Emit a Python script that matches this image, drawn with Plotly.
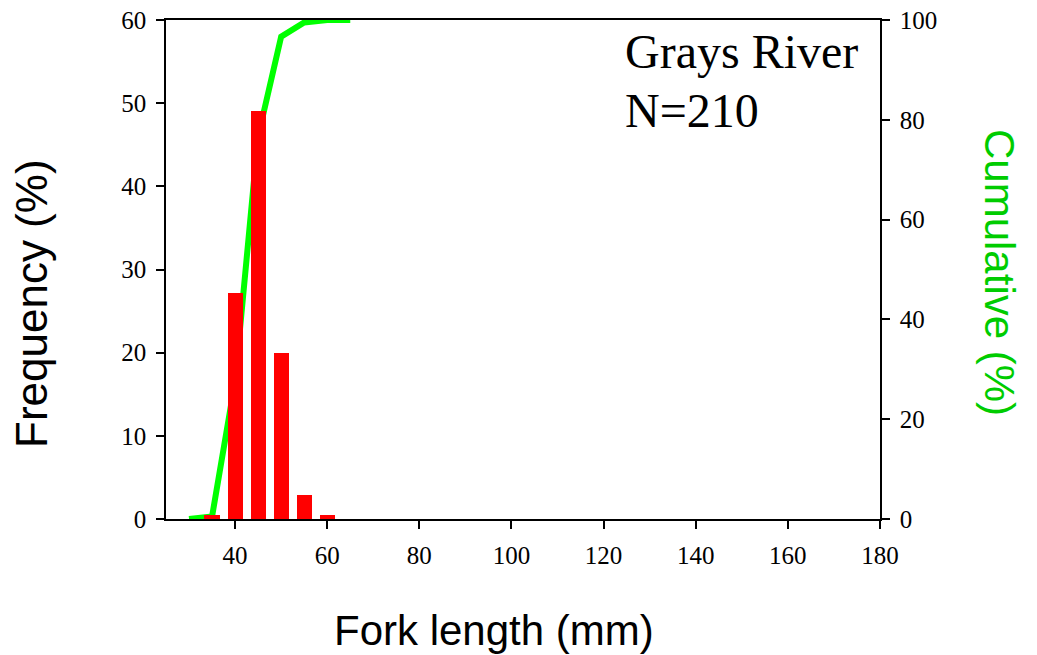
import plotly.graph_objects as go

# Data
bin_centers = [35, 40, 45, 50, 55, 60]
frequency = [0.48, 27.14, 49.05, 20.0, 2.86, 0.48]
cum_x = [30, 35, 40, 45, 50, 55, 60, 65]
cumulative = [0, 0.48, 27.62, 76.67, 96.67, 99.52, 100, 100]
x_ticks = [40, 60, 80, 100, 120, 140, 160, 180]
freq_ticks = [0, 10, 20, 30, 40, 50, 60]
cum_ticks = [0, 20, 40, 60, 80, 100]

fig = go.Figure()

# cumulative line on primary y (right side), drawn below
fig.add_trace(go.Scatter(x=cum_x, y=cumulative, mode="lines",
                         line=dict(color="#00ff00", width=6),
                         yaxis="y", showlegend=False))
# bars on overlaying axis (left side), drawn on top
fig.add_trace(go.Bar(x=bin_centers, y=frequency, width=3.3,
                     marker=dict(color="#ff0000", line=dict(width=0)),
                     yaxis="y2", showlegend=False))

tickfont = dict(family="Liberation Serif, Times New Roman, serif", size=25, color="black")

common = dict(ticks="outside", ticklen=8, tickwidth=1.5, tickcolor="black",
              showline=True, linecolor="black", linewidth=1.5, showgrid=False,
              zeroline=False, tickfont=tickfont, automargin=False,
              ticklabelstandoff=5)

fig.update_layout(
    template="none",
    width=1037, height=655,
    margin=dict(l=166, r=157, t=20, b=136),
    paper_bgcolor="white", plot_bgcolor="white",
    xaxis=dict(range=[25, 180], tickvals=x_ticks, mirror=True, **common),
    yaxis=dict(range=[0, 100], tickvals=cum_ticks, side="right", **common),
    yaxis2=dict(range=[0, 60], tickvals=freq_ticks, side="left", overlaying="y",
                **common),
    bargap=0,
)

def px_x(p):
    return (p - 166) / 714.0

def px_y(p):
    return (519 - p) / 499.0

sans = "Liberation Sans, Arial, sans-serif"
serif = "Liberation Serif, Times New Roman, serif"

fig.add_annotation(text="Fork length (mm)", xref="paper", yref="paper",
                   x=px_x(494), y=px_y(630), xanchor="center", yanchor="middle",
                   showarrow=False, font=dict(family=sans, size=42, color="black"))
fig.add_annotation(text="Frequency (%)", xref="paper", yref="paper",
                   x=px_x(31), y=px_y(304), xanchor="center", yanchor="middle",
                   textangle=-90, showarrow=False,
                   font=dict(family=sans, size=44, color="black"))
fig.add_annotation(text="Cumulative (%)", xref="paper", yref="paper",
                   x=px_x(1000), y=px_y(272), xanchor="center", yanchor="middle",
                   textangle=90, showarrow=False,
                   font=dict(family=sans, size=42, color="#00cc00"))
fig.add_annotation(text="Grays River", xref="paper", yref="paper",
                   x=px_x(623), y=px_y(52), xanchor="left", yanchor="middle",
                   showarrow=False, font=dict(family=serif, size=48, color="black"))
fig.add_annotation(text="N=210", xref="paper", yref="paper",
                   x=px_x(623), y=px_y(111), xanchor="left", yanchor="middle",
                   showarrow=False, font=dict(family=serif, size=48, color="black"))

fig.write_html("out.html", config={"displayModeBar": False},
               post_script="document.body.style.margin='0';document.body.style.overflow='hidden';")
